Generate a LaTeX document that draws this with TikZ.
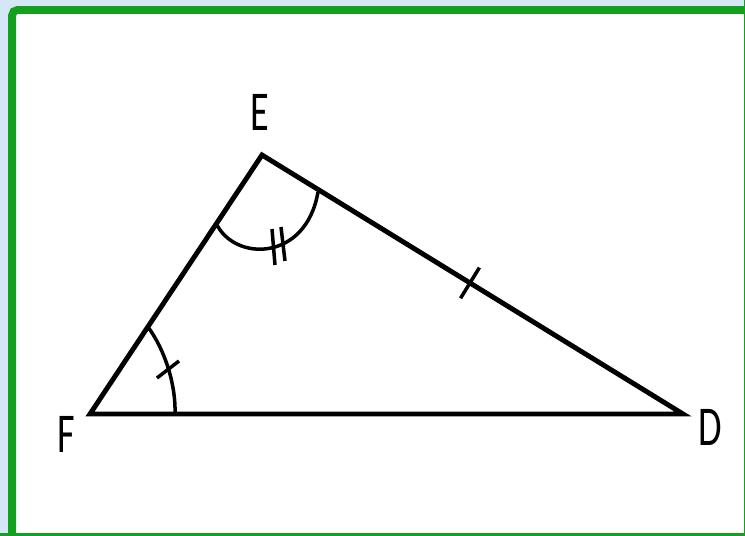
\documentclass[tikz,border=0pt]{standalone}
\usepackage{fontspec}
\setmainfont{Carlito}
\usepackage{tikz}
\usetikzlibrary{calc}

\definecolor{framegreen}{HTML}{14A01E}
\definecolor{backblue}{HTML}{D5E7F7}

\begin{document}
\begin{tikzpicture}[
    x=0.02cm, y=-0.02cm,
    side/.style={line width=2.8pt},
    anglemark/.style={line width=2pt},
    framestroke/.style={framegreen, line width=4.5pt},
    lbl/.style={font=\fontsize{32}{32}\selectfont, xscale=0.68, transform shape, inner sep=0pt}
]

% Background and frame
\fill[backblue] (0,0) rectangle (745,536);
\useasboundingbox (0,0) rectangle (745,536);
\begin{scope}
\clip (0,0) rectangle (745,536);
\fill[white] (12.2,10) rectangle (747.5,536);
\draw[framestroke] (760,10) [rounded corners=3pt] -- (12.2,10) [sharp corners] -- (12.2,560);
\draw[framestroke] (747.5,0) -- (747.5,560);
\draw[framestroke] (0,536.5) -- (760,536.5);
\end{scope}

% Define the vertices
\coordinate (F) at (90,414);
\coordinate (E) at (262,155);
\coordinate (D) at (683,414);

% Vertex labels
\node[lbl] (labE) at (260,112) {E};
\node[lbl] (labF) at (66,434) {F};
\node[lbl] (labD) at (710,427) {D};

% --- Draw the sides ---
\draw[side] (F) -- (E) -- (D) -- cycle;

% Angle at E (double mark)
\coordinate (e1) at (216,223);
\coordinate (e2) at (318,192);
\draw[anglemark] (e1) .. controls (234,262) and (306,262) .. (e2);
\draw[anglemark] (272,229) -- (275,265);
\draw[anglemark] (281,227) -- (285,261);

% Angle at F (single mark)
\coordinate (f1) at (148,327);
\coordinate (f2) at (175,414);
\draw[anglemark] (f1) .. controls (165,350) and (176,385) .. (f2);
\draw[anglemark] (157,378) -- (179,361);

% Tick on side ED
\coordinate (m) at ($(E)!0.494!(D)$);
\draw[anglemark] ($(m)!0.36cm!90:(D)$) -- ($(m)!0.36cm!-90:(D)$);

\end{tikzpicture}
\end{document}
